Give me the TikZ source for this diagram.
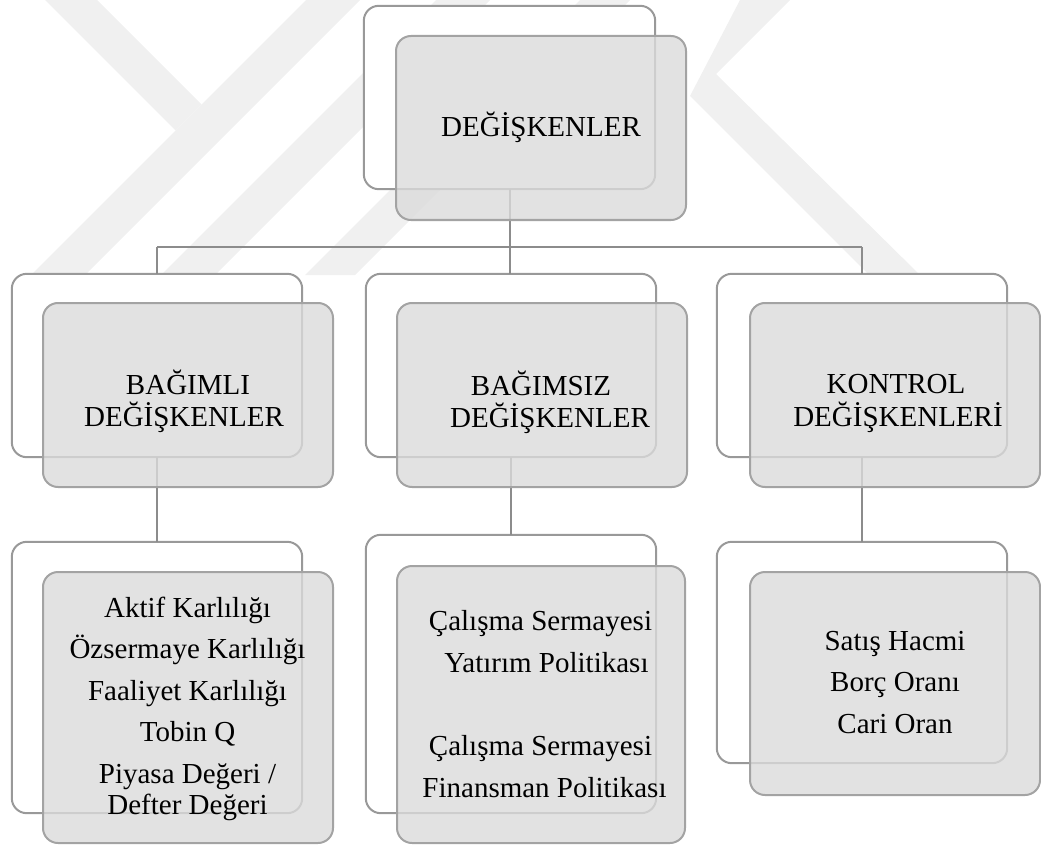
\documentclass[tikz,border=0pt]{standalone}
\usepackage{fontspec}
\setmainfont{Liberation Serif}
\begin{document}
\begin{tikzpicture}[x=1pt,y=-1pt,
  wm/.style={fill=black!6,draw=none},
  framebox/.style={draw=black!40,line width=2pt,rounded corners=15pt,fill=white},
  shadebox/.style={draw=black!36,line width=2pt,rounded corners=15pt,fill=black!14,fill opacity=0.8},
  conn/.style={draw=black!45,line width=2pt},
  lbl/.style={anchor=base,inner sep=0pt,font=\fontsize{29}{33}\selectfont}]
\useasboundingbox (0,0) rectangle (1041,845);
% watermark (approximate)
\fill[wm] (45,0)--(97,0)--(201.5,104.5)--(175.5,130.5)--cycle;
\fill[wm] (306,0)--(360,0)--(85,275)--(31,275)--cycle;
\fill[wm] (436,0)--(490,0)--(215,275)--(161,275)--cycle;
\fill[wm] (580,0)--(630,0)--(355,275)--(305,275)--cycle;
\fill[wm] (740,0)--(790,0)--(716,74)--(920,275)--(869,275)--(690,96)--cycle;
% frame boxes
\node[inner sep=0pt,minimum width=291pt,minimum height=183pt] (top) at (509.5,97.5) {};
\node[inner sep=0pt,minimum width=290pt,minimum height=183pt] (l2) at (157,365.5) {};
\node[inner sep=0pt,minimum width=290pt,minimum height=183pt] (m2) at (511,365.5) {};
\node[inner sep=0pt,minimum width=290pt,minimum height=183pt] (r2) at (862,365.5) {};
\node[inner sep=0pt,minimum width=290pt,minimum height=271pt] (l3) at (157,677.5) {};
\node[inner sep=0pt,minimum width=290pt,minimum height=278pt] (m3) at (511,674) {};
\node[inner sep=0pt,minimum width=290pt,minimum height=221pt] (r3) at (862,652.5) {};
\foreach \n in {top,l2,m2,r2,l3,m3,r3}{\path[framebox] (\n.north west) rectangle (\n.south east);}
% connectors
\coordinate (hl) at (157,247);
\coordinate (hr) at (862,247);
\coordinate (hm) at (510,247);
\draw[conn] (top.south -| hm) -- (hm);
\draw[conn] (hl) -- (hr);
\draw[conn] (hl) -- (l2.north);
\draw[conn] (hm) -- (m2.north -| hm);
\draw[conn] (hr) -- (r2.north);
\draw[conn] (l2.south) -- (l3.north);
\draw[conn] (m2.south) -- (m3.north);
\draw[conn] (r2.south) -- (r3.north);
% shaded boxes
\node[shadebox,minimum width=290pt,minimum height=184pt] (tops) at (541,128) {};
\node[shadebox,minimum width=290pt,minimum height=184pt] (l2s) at (188,395) {};
\node[shadebox,minimum width=290pt,minimum height=184pt] (m2s) at (542,395) {};
\node[shadebox,minimum width=290pt,minimum height=184pt] (r2s) at (895,395) {};
\node[shadebox,minimum width=290pt,minimum height=271pt] (l3s) at (188,707.5) {};
\node[shadebox,minimum width=288pt,minimum height=277pt] (m3s) at (541,704.5) {};
\node[shadebox,minimum width=290pt,minimum height=223pt] (r3s) at (895,683.5) {};
% labels
\node[lbl] (t0) at (541,137) {DEĞİŞKENLER};
\node[lbl] (ta1) at (188,394) {BAĞIMLI};
\node[lbl] (ta2) at (184,426.5) {DEĞİŞKENLER};
\node[lbl] (tb1) at (541,395) {BAĞIMSIZ};
\node[lbl] (tb2) at (550,427) {DEĞİŞKENLER};
\node[lbl] (tc1) at (896,393) {KONTROL};
\node[lbl] (tc2) at (898,426) {DEĞİŞKENLERİ};
\node[lbl] (la1) at (187.5,617) {Aktif Karlılığı};
\node[lbl] (la2) at (187.5,658.5) {Özsermaye Karlılığı};
\node[lbl] (la3) at (187.5,700) {Faaliyet Karlılığı};
\node[lbl] (la4) at (187.5,741.5) {Tobin Q};
\node[lbl] (la5) at (187.5,783) {Piyasa Değeri /};
\node[lbl] (la6) at (187.5,814) {Defter Değeri};
\node[lbl] (lb1) at (540.5,630) {Çalışma Sermayesi};
\node[lbl] (lb2) at (546.5,672) {Yatırım Politikası};
\node[lbl] (lb3) at (540.5,755) {Çalışma Sermayesi};
\node[lbl] (lb4) at (544.5,797) {Finansman Politikası};
\node[lbl] (lc1) at (895,650) {Satış Hacmi};
\node[lbl] (lc2) at (895,691.5) {Borç Oranı};
\node[lbl] (lc3) at (895,733) {Cari Oran};
\end{tikzpicture}
\end{document}
